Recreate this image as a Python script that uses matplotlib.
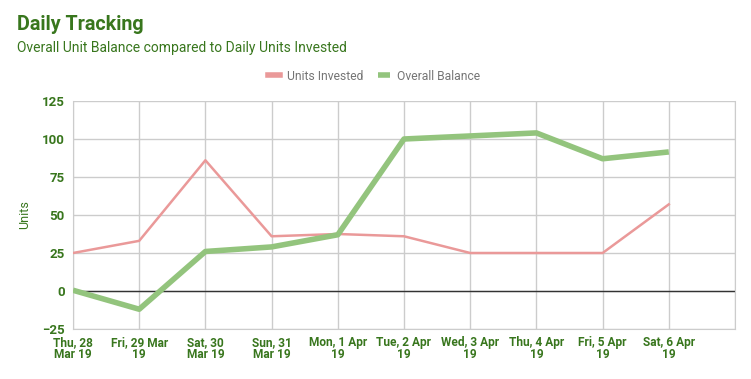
import matplotlib
matplotlib.use("Agg")
import matplotlib.pyplot as plt

dates = ["Thu, 28\nMar 19", "Fri, 29 Mar\n19", "Sat, 30\nMar 19", "Sun, 31\nMar 19",
         "Mon, 1 Apr\n19", "Tue, 2 Apr\n19", "Wed, 3 Apr\n19", "Thu, 4 Apr\n19",
         "Fri, 5 Apr\n19", "Sat, 6 Apr\n19"]
units_invested = [25, 33, 86, 36, 37.5, 36, 25, 25, 25, 57]
overall_balance = [0.5, -12, 26, 29, 37, 100, 102, 104, 87, 91.5]
yticks = [-25, 0, 25, 50, 75, 100, 125]

plt.rcParams['font.family'] = ['Roboto', 'DejaVu Sans']
green_txt = '#38761d'

fig = plt.figure(figsize=(7.51, 3.79), dpi=100)
ax = fig.add_axes([73/751, 1-329/379, (735-73)/751, (329-101)/379])

x = list(range(len(dates)))
ax.plot(x, units_invested, color='#ea9999', lw=1.8, label='Units Invested', zorder=3)
ax.plot(x, overall_balance, color='#93c47d', lw=4, label='Overall Balance', zorder=4,
        solid_capstyle='butt')
ax.axhline(0, color='#333333', lw=1, zorder=2)

ax.set_xlim(0, 10)
ax.set_ylim(-25, 125)
ax.set_yticks(yticks)
ax.set_xticks(list(range(11)))
ax.set_xticklabels(dates + [""])
ax.grid(True, color='#cccccc', lw=1, zorder=0)
ax.spines['top'].set_visible(False)
for s in ['left', 'right', 'bottom']:
    ax.spines[s].set_color('#cccccc')
ax.tick_params(length=0)
for lab in ax.get_yticklabels():
    lab.set_color(green_txt)
    lab.set_fontweight('bold')
    lab.set_fontsize(9.5)
for lab in ax.get_xticklabels():
    lab.set_color(green_txt)
    lab.set_fontweight('bold')
    lab.set_fontsize(8.6)
    lab.set_linespacing(0.95)
ax.tick_params(axis='x', pad=5)
ax.tick_params(axis='y', pad=6)

ax.set_ylabel('Units', color=green_txt, fontsize=9)
ax.yaxis.set_label_coords(-42/662, 0.5)

fig.text(17/751, 1-25/379, 'Daily Tracking', color=green_txt, fontsize=14.2,
         fontweight='bold', va='center', ha='left')
fig.text(17/751, 1-48/379, 'Overall Unit Balance compared to Daily Units Invested',
         color=green_txt, fontsize=10, va='center', ha='left')

leg = fig.legend(loc='center', bbox_to_anchor=(374/751, 1-76/379), ncol=2, frameon=False,
                 fontsize=8.7, handlelength=1.0, handletextpad=0.6, columnspacing=1.2)
for t in leg.get_texts():
    t.set_color('#757575')
for h in leg.legend_handles:
    h.set_linewidth(4)

fig.savefig('out.png', dpi=100)
